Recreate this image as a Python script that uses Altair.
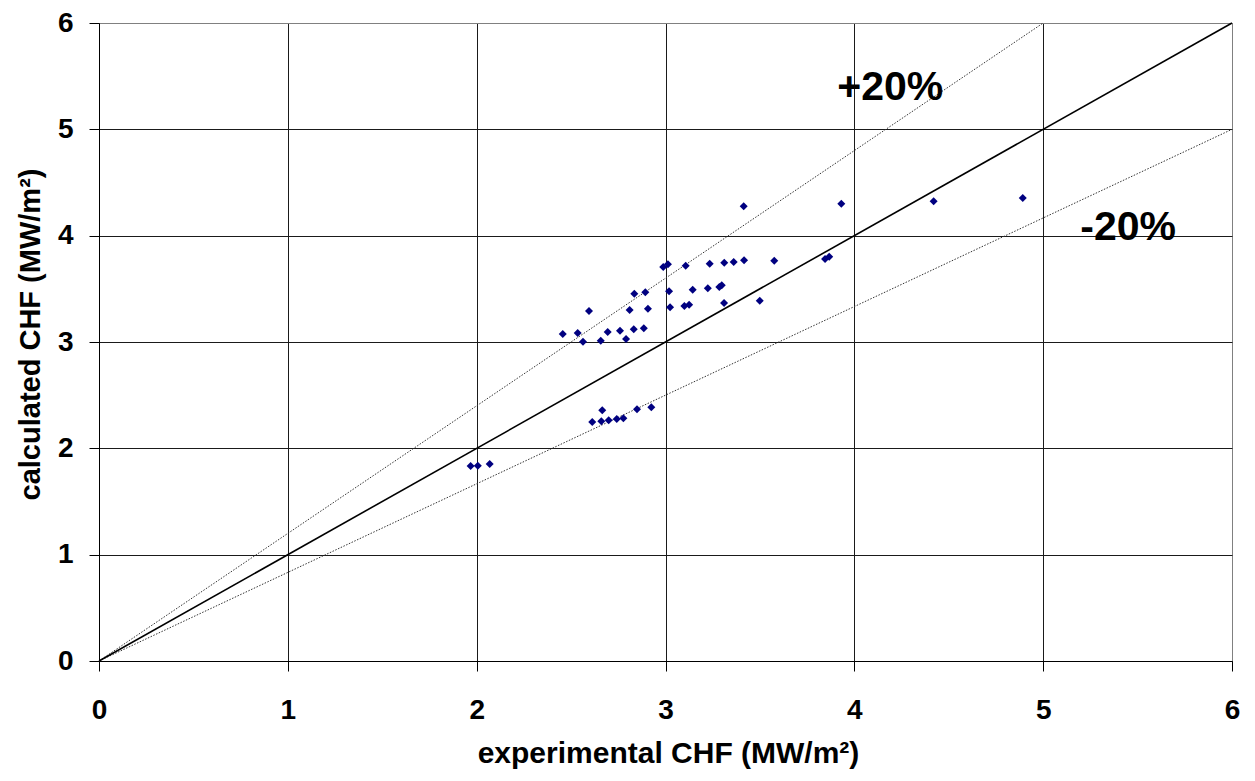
import altair as alt
import pandas as pd

# experimental CHF (x) and calculated CHF (y), MW/m2
exp_chf = [1.968, 2.006, 2.069, 2.612, 2.660, 2.665, 2.699, 2.742, 2.777, 2.849, 2.925,
           2.456, 2.535, 2.563, 2.595, 2.657, 2.694, 2.759, 2.791, 2.810, 2.832, 2.835,
           2.885, 2.893, 2.907, 2.988, 3.013, 3.019, 3.024, 3.107, 3.144, 3.100, 3.125,
           3.234, 3.224, 3.285, 3.298, 3.310, 3.311, 3.361, 3.416, 3.414, 3.499, 3.576,
           3.845, 3.867, 3.931, 4.420, 4.892]
calc_chf = [1.834, 1.837, 1.853, 2.248, 2.254, 2.358, 2.264, 2.276, 2.283, 2.367, 2.386,
            3.075, 3.085, 3.003, 3.292, 3.012, 3.094, 3.106, 3.028, 3.301, 3.120, 3.454,
            3.129, 3.468, 3.313, 3.705, 3.731, 3.477, 3.326, 3.718, 3.492, 3.339, 3.351,
            3.736, 3.505, 3.517, 3.533, 3.367, 3.746, 3.752, 3.768, 4.276, 3.388, 3.765,
            3.781, 3.802, 4.301, 4.323, 4.354]

# reference lines (endpoints)
diag_x = [0, 6]
diag_y = [0, 6]
plus_x = [0, 5]
plus_y = [0, 6]
minus_x = [0, 6]
minus_y = [0, 5]

# annotations
ann_text = ["+20%", "-20%"]
ann_x = [4.19, 5.45]
ann_y = [5.28, 3.96]

tick_values = [0, 1, 2, 3, 4, 5, 6]

FONT = "Liberation Sans"

pts = pd.DataFrame({"x": exp_chf, "y": calc_chf})
diag = pd.DataFrame({"x": diag_x, "y": diag_y})
lines20 = pd.DataFrame({
    "x": plus_x + minus_x,
    "y": plus_y + minus_y,
    "g": ["plus", "plus", "minus", "minus"],
})
ann = pd.DataFrame({"x": ann_x, "y": ann_y, "t": ann_text})

grid_color = {"condition": {"test": "datum.value === 6", "value": "#808080"}, "value": "#1a1a1a"}

xscale = alt.Scale(domain=[0, 6], nice=False, zero=True)
yscale = alt.Scale(domain=[0, 6], nice=False, zero=True)

xaxis = alt.Axis(
    values=tick_values, format="d", grid=True, gridColor=grid_color, gridWidth=1,
    domainColor="#000", domainWidth=1, tickColor="#000", tickSize=10, tickWidth=1,
    labelFont=FONT, labelFontSize=28, labelFontWeight="bold", labelColor="#000",
    labelBaseline="alphabetic", labelPadding=47, labelFlush=False, labelOverlap=False,
    title="experimental CHF (MW/m²)", titleFont=FONT, titleFontSize=30,
    titleFontWeight="bold", titleColor="#000", titleX=569, titleY=101,
    titleBaseline="alphabetic", titleAlign="center",
)
yaxis = alt.Axis(
    values=tick_values, format="d", grid=True, gridColor=grid_color, gridWidth=1,
    domainColor="#000", domainWidth=1, tickColor="#000", tickSize=10, tickWidth=1,
    labelFont=FONT, labelFontSize=28, labelFontWeight="bold", labelColor="#000",
    labelPadding=16, labelFlush=False, labelOverlap=False,
    title="calculated CHF (MW/m²)", titleFont=FONT, titleFontSize=29,
    titleFontWeight="bold", titleColor="#000", titleX=-60, titleY=311,
    titleBaseline="alphabetic", titleAlign="center", titleAngle=270,
)

base_x = alt.X("x:Q", scale=xscale, axis=xaxis)
base_y = alt.Y("y:Q", scale=yscale, axis=yaxis)

diag_layer = alt.Chart(diag).mark_line(color="#000", strokeWidth=1.6).encode(x=base_x, y=base_y)
dotted_layer = alt.Chart(lines20).mark_line(
    color="#333", strokeWidth=1, strokeDash=[1.5, 1.5]
).encode(x=base_x, y=base_y, detail="g:N")
pts_layer = alt.Chart(pts).mark_point(
    shape="diamond", filled=True, color="#000080", size=64, opacity=1
).encode(x=base_x, y=base_y)
ann_layer = alt.Chart(ann).mark_text(
    font=FONT, fontSize=41, fontWeight="bold", color="#000", align="center",
    baseline="alphabetic"
).encode(x=base_x, y=base_y, text="t:N")

chart = alt.layer(dotted_layer, diag_layer, pts_layer, ann_layer).properties(
    width=1133, height=638,
    autosize=alt.AutoSizeParams(type="none"),
    padding={"left": 91, "top": 15, "right": 15, "bottom": 110},
    background="white",
).configure_view(stroke="#808080", strokeWidth=1)

chart.save("out.html", embed_options={"renderer": "svg", "actions": False})
